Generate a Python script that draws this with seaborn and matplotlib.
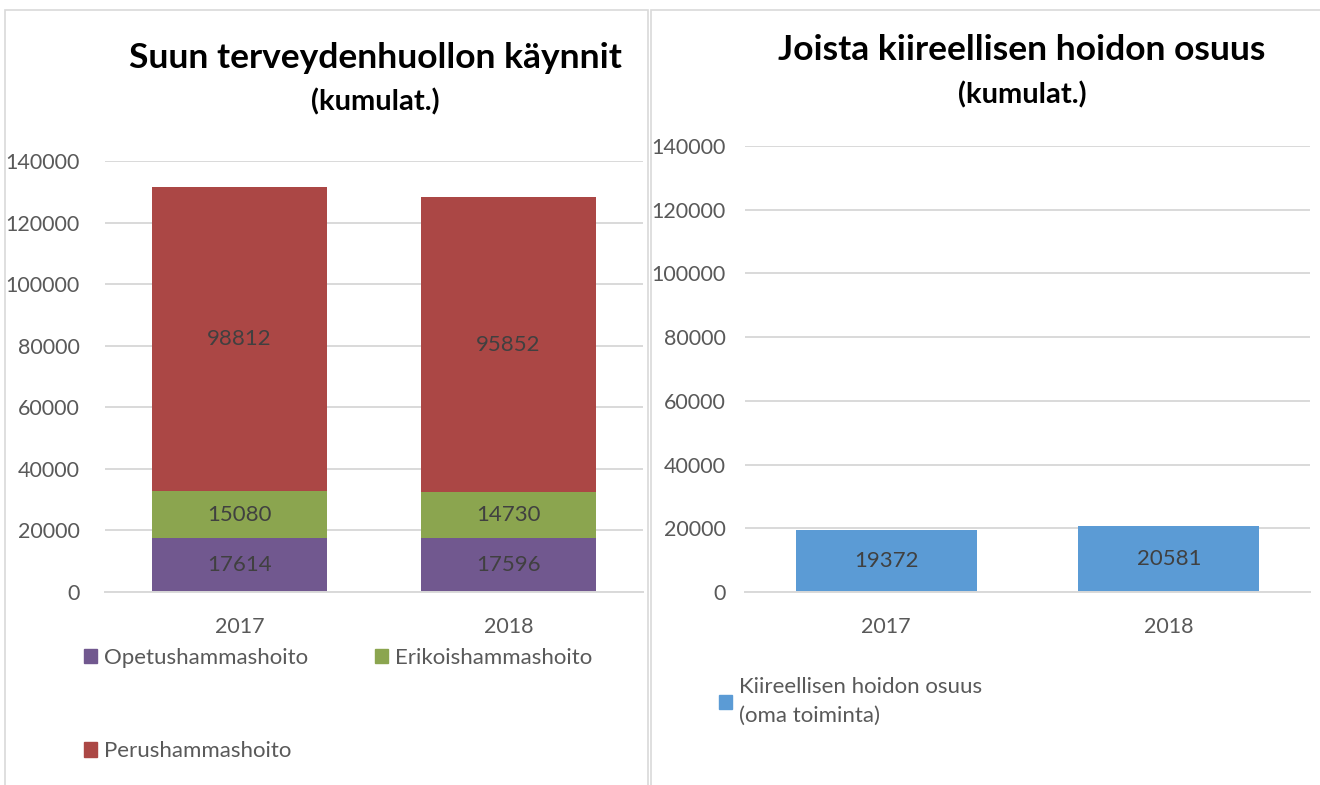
import numpy as np
import pandas as pd
import matplotlib
matplotlib.use('Agg')
import matplotlib.pyplot as plt
import matplotlib.patches as mpatches
import seaborn as sns

# data
years = ['2017', '2018']
opetus = np.array([17614, 17596])      # Opetushammashoito
erikois = np.array([15080, 14730])     # Erikoishammashoito
perus = np.array([98812, 95852])       # Perushammashoito
kiireellinen = np.array([19372, 20581])  # Kiireellisen hoidon osuus (oma toiminta)
y_ticks = [0, 20000, 40000, 60000, 80000, 100000, 120000, 140000]

col_opetus = '#71588F'
col_erikois = '#8BA54F'
col_perus = '#AB4745'
col_kiir = '#5B9BD5'
grid_col = '#D9D9D9'
txt_col = '#595959'
lab_col = '#404040'

sns.set_style('white')
plt.rcParams['font.family'] = ['Lato', 'DejaVu Sans']

W, H = 1320, 785
fig = plt.figure(figsize=(W / 100, H / 100), dpi=100)

def px_axes(x0, x1, ytop, ybot):
    return fig.add_axes([x0 / W, 1 - ybot / H, (x1 - x0) / W, (ybot - ytop) / H])

ax1 = px_axes(105, 643, 161, 592)
ax2 = px_axes(745, 1310, 146, 592)

df = pd.DataFrame({'year': years, 'opetus': opetus, 'erikois': erikois,
                   'perus': perus, 'kiir': kiireellinen})

# stacked bars
sns.barplot(data=df, x='year', y='opetus', color=col_opetus, width=0.647,
            saturation=1, ax=ax1, linewidth=0)
sns.barplot(data=df, x='year', y='erikois', color=col_erikois, width=0.647,
            saturation=1, ax=ax1, linewidth=0, bottom=opetus)
sns.barplot(data=df, x='year', y='perus', color=col_perus, width=0.647,
            saturation=1, ax=ax1, linewidth=0, bottom=opetus + erikois)
for cont in ax1.containers:
    ax1.bar_label(cont, label_type='center', color=lab_col, fontsize=16)

sns.barplot(data=df, x='year', y='kiir', color=col_kiir, width=0.64,
            saturation=1, ax=ax2, linewidth=0)
for cont in ax2.containers:
    ax2.bar_label(cont, label_type='center', color=lab_col, fontsize=16)

for ax, ypad in [(ax1, 18), (ax2, 14)]:
    ax.set_ylim(0, 140000)
    ax.set_xlim(-0.5, 1.5)
    ax.set_yticks(y_ticks)
    ax.set_yticklabels([str(t) for t in y_ticks])
    ax.yaxis.grid(True, color=grid_col, linewidth=1.4)
    ax.set_axisbelow(True)
    for s in ['left', 'right', 'top']:
        ax.spines[s].set_visible(False)
    ax.spines['bottom'].set_color(grid_col)
    ax.spines['bottom'].set_linewidth(1.4)
    ax.tick_params(axis='y', length=0, pad=ypad, labelsize=15.5, labelcolor=txt_col)
    ax.tick_params(axis='x', length=0, pad=18, labelsize=15.5, labelcolor=txt_col)
    ax.set_xlabel('')
    ax.set_ylabel('')

# titles
fig.text(375 / W, 1 - 58 / H, 'Suun terveydenhuollon käynnit', ha='center', va='center',
         fontsize=25.5, fontweight='bold', color='black')
fig.text(375 / W, 1 - 102 / H, '(kumulat.)', ha='center', va='center',
         fontsize=21, fontweight='bold', color='black')
fig.text(1022 / W, 1 - 50 / H, 'Joista kiireellisen hoidon osuus', ha='center', va='center',
         fontsize=25.5, fontweight='bold', color='black')
fig.text(1022 / W, 1 - 95 / H, '(kumulat.)', ha='center', va='center',
         fontsize=21, fontweight='bold', color='black')

# legends
h_op = mpatches.Patch(color=col_opetus, label='Opetushammashoito')
h_er = mpatches.Patch(color=col_erikois, label='Erikoishammashoito')
h_pe = mpatches.Patch(color=col_perus, label='Perushammashoito')
fig.legend(handles=[h_op, h_pe, h_er], ncol=2, loc='upper left',
           bbox_to_anchor=(84 / W, 1 - 648 / H), frameon=False, fontsize=16,
           labelcolor=txt_col, handlelength=0.6, handleheight=0.6,
           handletextpad=0.3, labelspacing=3.3, columnspacing=3.0,
           borderpad=0, borderaxespad=0)
h_ki = mpatches.Patch(color=col_kiir, label='Kiireellisen hoidon osuus\n(oma toiminta)')
leg2 = fig.legend(handles=[h_ki], loc='upper left', bbox_to_anchor=(719 / W, 1 - 677 / H),
                  frameon=False, fontsize=16, labelcolor=txt_col, handlelength=0.6,
                  handleheight=0.6, handletextpad=0.3, borderpad=0, borderaxespad=0)
for t in leg2.get_texts():
    t.set_linespacing(1.55)

# panel borders
fig.patches.append(mpatches.Rectangle((5 / W, -0.01), 643 / W, 1.01 - 10 / H,
                                      transform=fig.transFigure, fill=False,
                                      edgecolor=grid_col, linewidth=1.2))
fig.patches.append(mpatches.Rectangle((651 / W, -0.01), 700 / W, 1.01 - 10 / H,
                                      transform=fig.transFigure, fill=False,
                                      edgecolor=grid_col, linewidth=1.2))

fig.savefig('out.png', dpi=100)
